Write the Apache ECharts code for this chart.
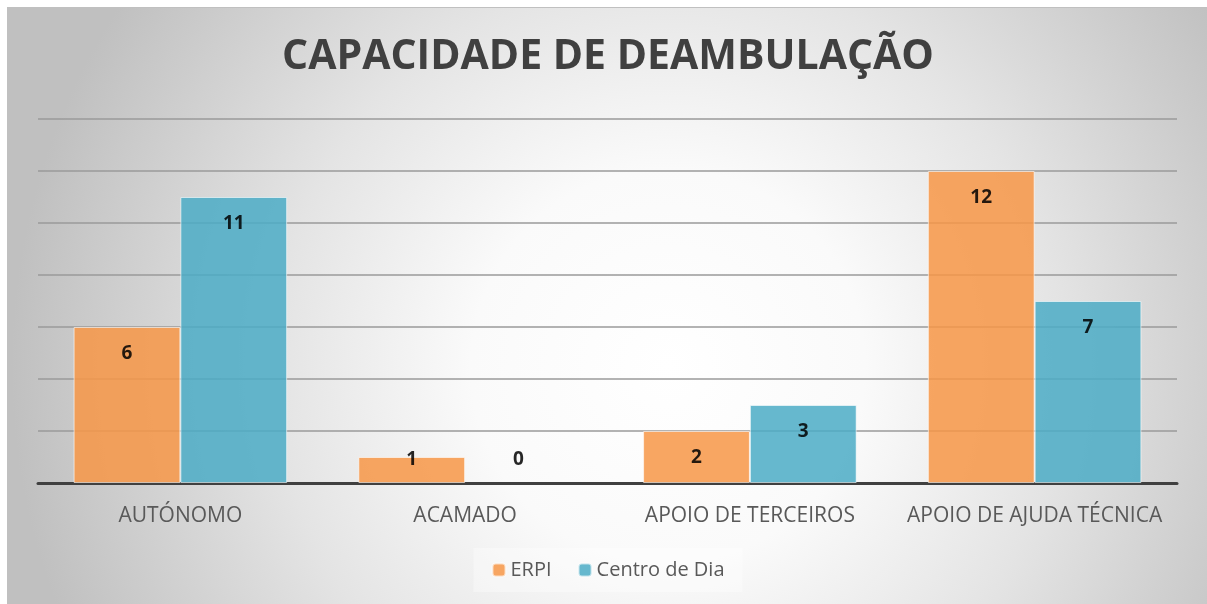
<!DOCTYPE html>
<html lang="pt">
<head>
    <meta charset="UTF-8">
    <title>Capacidade de Deambulação</title>
    <script src="https://cdnjs.cloudflare.com/ajax/libs/echarts/6.0.0/echarts.min.js"></script>
    <style>
        body { margin: 0; background: #ffffff; }
        #main {
            position: absolute; left: 7px; top: 7px;
            width: 1200px; height: 597px;
            border-left: 1px solid #c0c0c0; border-top: 1px solid #c0c0c0;
        }
    </style>
</head>
<body>
    <div id="main"></div>
    <script>
        // dados do gráfico
        const categorias = ['AUTÓNOMO', 'ACAMADO', 'APOIO DE TERCEIROS', 'APOIO DE AJUDA TÉCNICA'];
        const erpi = [6, 1, 2, 12];
        const centroDia = [11, 0, 3, 7];

        const fonte = '"Open Sans", "DejaVu Sans", sans-serif';

        // rótulo dentro do topo; barras pequenas ficam com o rótulo acima do eixo
        function comRotulo(v) {
            if (v < 2) {
                return {
                    value: v,
                    label: { position: 'insideBottom', distance: 14 },
                    itemStyle: v === 0 ? { borderWidth: 0 } : {}
                };
            }
            return v;
        }

        const myChart = echarts.init(document.getElementById('main'));
        const option = {
            backgroundColor: {
                type: 'radial', x: 0.55, y: 0.6, r: 1.1,
                colorStops: [
                    { offset: 0, color: '#ffffff' },
                    { offset: 0.3, color: '#fafafa' },
                    { offset: 0.6, color: '#e4e4e4' },
                    { offset: 1, color: '#c0c0c0' }
                ]
            },
            textStyle: { fontFamily: fonte },
            title: {
                text: 'CAPACIDADE DE DEAMBULAÇÃO',
                left: 'center',
                top: 24,
                textStyle: { fontSize: 41, fontWeight: 'bold', color: '#404040', fontFamily: fonte }
            },
            legend: {
                bottom: 13,
                left: 'center',
                itemWidth: 13,
                itemHeight: 13,
                itemGap: 26,
                padding: [12, 18],
                backgroundColor: 'rgba(255,255,255,0.35)',
                textStyle: { fontSize: 20, color: '#595959', fontFamily: fonte },
                data: ['ERPI', 'Centro de Dia']
            },
            grid: { left: 30, top: 111, width: 1139, height: 364 },
            xAxis: {
                type: 'category',
                data: categorias,
                axisLine: { lineStyle: { color: '#404040', width: 3 } },
                axisTick: { show: false },
                axisLabel: { interval: 0, fontSize: 21, color: '#595959', margin: 23, fontFamily: fonte }
            },
            yAxis: {
                type: 'value',
                min: 0,
                max: 14,
                interval: 2,
                axisLabel: { show: false },
                axisLine: { show: false },
                axisTick: { show: false },
                splitLine: { lineStyle: { color: '#9a9a9a', width: 1.5 } }
            },
            series: [
                {
                    name: 'ERPI',
                    type: 'bar',
                    data: erpi.map(comRotulo),
                    barCategoryGap: '25%',
                    barGap: '0%',
                    itemStyle: { color: '#f79646', opacity: 0.85, borderColor: 'rgba(255,255,255,0.7)', borderWidth: 1 },
                    label: { show: true, position: 'insideTop', distance: 17, fontSize: 19, fontWeight: 'bold', color: '#000000', fontFamily: fonte }
                },
                {
                    name: 'Centro de Dia',
                    type: 'bar',
                    data: centroDia.map(comRotulo),
                    barCategoryGap: '25%',
                    barGap: '0%',
                    itemStyle: { color: '#4bacc6', opacity: 0.85, borderColor: 'rgba(255,255,255,0.7)', borderWidth: 1 },
                    label: { show: true, position: 'insideTop', distance: 17, fontSize: 19, fontWeight: 'bold', color: '#000000', fontFamily: fonte }
                }
            ]
        };
        myChart.setOption(option);
    </script>
</body>
</html>
